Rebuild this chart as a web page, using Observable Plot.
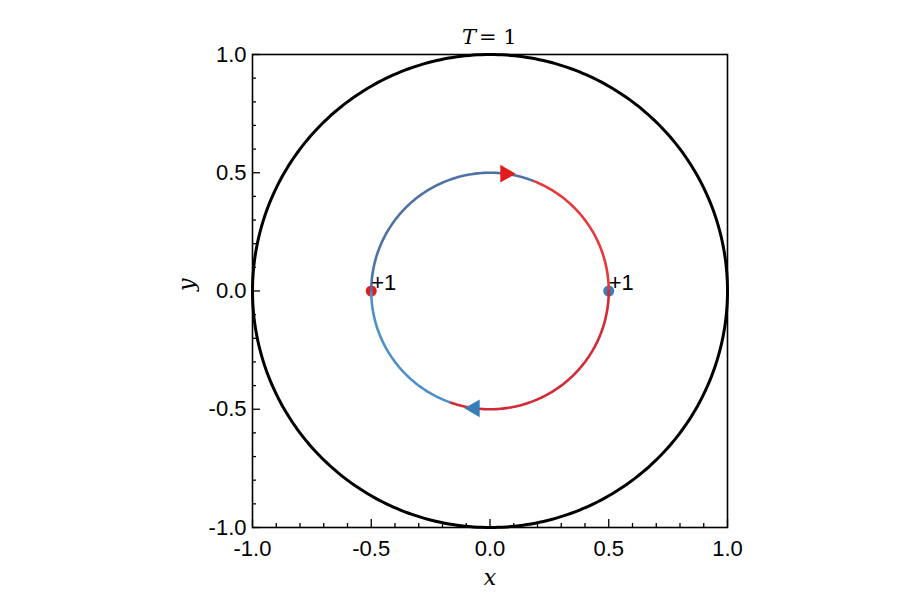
<!DOCTYPE html>
<html>
<head>
<meta charset="utf-8">
<script src="https://cdn.jsdelivr.net/npm/d3@7"></script>
<script src="https://cdn.jsdelivr.net/npm/@observablehq/plot@0.6"></script>
<style>
  html, body { margin: 0; padding: 0; background: #fff; }
</style>
</head>
<body>
<div id="chart"></div>
<script>
// ---- data ----
const titleVar = "T";
const titleRest = "= 1";
const xLabel = "x";
const yLabel = "y";

const majorTicks = [-1.0, -0.5, 0.0, 0.5, 1.0];
const minorTicks = [-0.9, -0.8, -0.7, -0.6, -0.4, -0.3, -0.2, -0.1, 0.1, 0.2, 0.3, 0.4, 0.6, 0.7, 0.8, 0.9];

const boundaryRadius = 1.0;
const orbitRadius = 0.5;

// trajectory arcs on the orbit (angles in degrees, drawn from start to end)
const arcNames  = ["red-upper", "red-lower", "blue-lower", "blue-upper"];
const arcStart  = [69, 0, -110, -180];
const arcEnd    = [0, -110, -180, -291];

// vortices
const vortexNames  = ["vortex A", "vortex B"];
const vortexX      = [-0.5, 0.5];
const vortexY      = [0.0, 0.0];
const vortexCharge = ["+1", "+1"];

// direction arrows
const arrowNames = ["arrow A", "arrow B"];
const arrowX     = [0.065, -0.065];
const arrowY     = [0.496, -0.496];
const arrowAngle = [90, -90];

// colours
const colorDomain = ["red-upper", "red-lower", "blue-lower", "blue-upper", "vortex A", "vortex B", "arrow A", "arrow B"];
const colorRange  = ["#e8383c", "#d32a37", "#4f90c9", "#4e71a8", "#e41a1c", "#377eb8", "#e41a1c", "#377eb8"];

// ---- build tables ----
function arcPoints(radius, a0, a1, name) {
  const pts = [];
  const n = Math.max(2, Math.ceil(Math.abs(a1 - a0)));
  for (let i = 0; i <= n; i++) {
    const a = (a0 + (a1 - a0) * i / n) * Math.PI / 180;
    pts.push({x: radius * Math.cos(a), y: radius * Math.sin(a), seg: name});
  }
  return pts;
}
const boundary = arcPoints(boundaryRadius, 0, 360, "boundary");
const arcs = arcNames.flatMap((n, i) => arcPoints(orbitRadius, arcStart[i], arcEnd[i], n));
const vortices = vortexNames.map((n, i) => ({name: n, x: vortexX[i], y: vortexY[i], q: vortexCharge[i]}));
const arrows = arrowNames.map((n, i) => ({name: n, x: arrowX[i], y: arrowY[i], a: arrowAngle[i]}));

const fmt = d => d.toFixed(1);

const chart = Plot.plot({
  width: 900,
  height: 612,
  marginLeft: 252,
  marginRight: 173,
  marginTop: 54,
  marginBottom: 85,
  style: {fontFamily: "'Liberation Sans', Arial, sans-serif", fontSize: "22px", color: "#000", background: "#fff"},
  x: {domain: [-1, 1]},
  y: {domain: [-1, 1]},
  color: {domain: colorDomain, range: colorRange},
  marks: [
    Plot.dot(vortices, {x: "x", y: "y", r: 5.5, fill: "name"}),
    Plot.line(boundary, {x: "x", y: "y", stroke: "black", strokeWidth: 3}),
    Plot.line(arcs, {x: "x", y: "y", z: "seg", stroke: "seg", strokeWidth: 2.6}),
    Plot.dot(arrows, {x: "x", y: "y", symbol: "triangle", r: 6.6, fill: "name", rotate: "a", stroke: null}),
    Plot.text(vortices, {x: "x", y: "y", text: "q", textAnchor: "start", lineAnchor: "bottom", dx: 0, dy: -1, fontSize: 22, fill: "black"}),
    Plot.axisX({ticks: minorTicks, tickSize: -4, tickFormat: () => "", strokeWidth: 1.3, label: null}),
    Plot.axisX({ticks: majorTicks, tickSize: -8, tickPadding: 21, tickFormat: fmt, strokeWidth: 1.3, label: null, fontSize: 22}),
    Plot.axisY({ticks: minorTicks, tickSize: -4, tickFormat: () => "", strokeWidth: 1.3, label: null}),
    Plot.axisY({ticks: majorTicks, tickSize: -8, tickPadding: 14, tickFormat: fmt, strokeWidth: 1.3, label: null, fontSize: 22}),
    Plot.frame({stroke: "black", strokeWidth: 1.6}),
    Plot.text([titleVar], {frameAnchor: "top", text: d => d, dy: -11, dx: -14, textAnchor: "end", lineAnchor: "bottom", fontFamily: "'DejaVu Serif', serif", fontStyle: "italic", fontSize: 21}),
    Plot.text([titleRest], {frameAnchor: "top", text: d => d, dy: -11, dx: -11, textAnchor: "start", lineAnchor: "bottom", fontFamily: "'DejaVu Serif', serif", fontSize: 21}),
    Plot.text([xLabel], {frameAnchor: "bottom", text: d => d, dy: 57, fontFamily: "'DejaVu Serif', serif", fontStyle: "italic", fontSize: 22}),
    Plot.text([yLabel], {frameAnchor: "left", text: d => d, dx: -66, rotate: -90, fontFamily: "'DejaVu Serif', serif", fontStyle: "italic", fontSize: 22})
  ]
});
document.getElementById("chart").appendChild(chart);
</script>
</body>
</html>
